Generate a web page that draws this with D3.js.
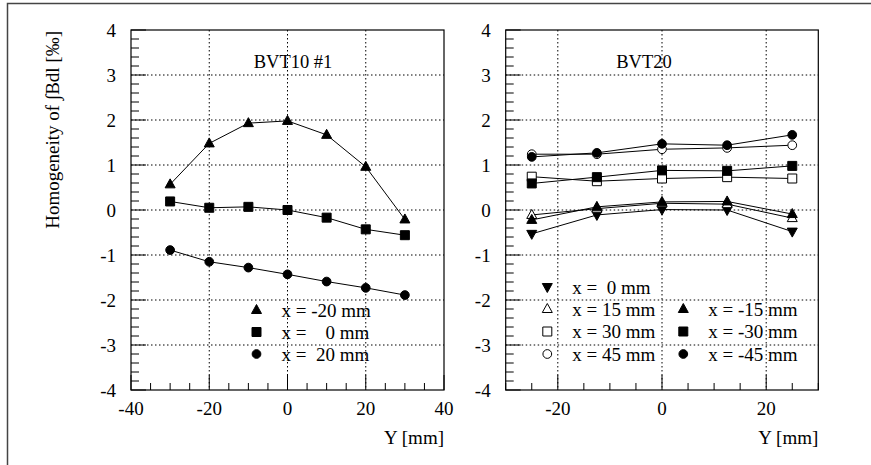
<!DOCTYPE html>
<html>
<head>
<meta charset="utf-8">
<script src="https://cdn.jsdelivr.net/npm/d3@7"></script>
<style>
  body { margin: 0; background: #fff; }
  text { font-family: "Liberation Serif", "DejaVu Serif", serif; fill: #000; white-space: pre; }
</style>
</head>
<body>
<div id="viz"></div>
<script>
// BVT10 #1 : Y positions and homogeneity for three x values
var yPos10 = [-30, -20, -10, 0, 10, 20, 30];
var bvt10_m20 = [0.57, 1.48, 1.93, 1.98, 1.67, 0.96, -0.21];
var bvt10_0 = [0.19, 0.05, 0.07, 0.00, -0.17, -0.43, -0.56];
var bvt10_p20 = [-0.89, -1.15, -1.28, -1.43, -1.59, -1.73, -1.89];

// BVT20
var yPos20 = [-25, -12.5, 0, 12.5, 25];
var bvt20_0 = [-0.53, -0.11, 0.01, 0.00, -0.48];
var bvt20_p15 = [-0.11, 0.03, 0.15, 0.13, -0.18];
var bvt20_m15 = [-0.22, 0.07, 0.18, 0.19, -0.09];
var bvt20_p30 = [0.74, 0.64, 0.70, 0.73, 0.70];
var bvt20_m30 = [0.59, 0.73, 0.88, 0.87, 0.98];
var bvt20_p45 = [1.24, 1.24, 1.35, 1.38, 1.44];
var bvt20_m45 = [1.18, 1.27, 1.47, 1.44, 1.67];

var yTicks = [-4, -3, -2, -1, 0, 1, 2, 3, 4];
var xTicks10 = [-40, -20, 0, 20, 40];
var xTicks20 = [-20, 0, 20];

var svg = d3.select('#viz').append('svg')
  .attr('width', 871).attr('height', 465);

// outer frame (top + left)
svg.append('path')
  .attr('d', 'M7.5,465 V3.5 H871')
  .style('fill', 'none').style('stroke', '#444').style('stroke-width', 1.5);

function panel(opt) {
  var g = svg.append('g');
  var x = d3.scaleLinear().domain(opt.xdom).range([opt.left, opt.right]);
  var y = d3.scaleLinear().domain([-4, 4]).range([390, 30]);

  // grid
  g.selectAll('.gx').data(opt.xgrid).join('line')
    .attr('x1', d => x(d)).attr('x2', d => x(d)).attr('y1', 30).attr('y2', 390)
    .style('stroke', '#000').style('stroke-width', 1).style('stroke-dasharray', '1.5,2.5');
  g.selectAll('.gy').data(yTicks.slice(1, -1)).join('line')
    .attr('x1', opt.left).attr('x2', opt.right).attr('y1', d => y(d)).attr('y2', d => y(d))
    .style('stroke', '#000').style('stroke-width', 1).style('stroke-dasharray', '1.5,2.5');

  // y ticks
  var yMinor = d3.range(-4, 4.001, 0.2);
  g.selectAll('.ty').data(yMinor).join('line')
    .attr('x1', opt.left).attr('y1', d => y(d)).attr('y2', d => y(d))
    .attr('x2', d => opt.left + (Math.abs(d - Math.round(d)) < 1e-6 ? 15 : 8))
    .style('stroke', '#000').style('stroke-width', 1);
  // x ticks
  var xMinor = d3.range(opt.xdom[0], opt.xdom[1] + 0.001, 5);
  g.selectAll('.tx').data(xMinor).join('line')
    .attr('x1', d => x(d)).attr('x2', d => x(d)).attr('y1', 390)
    .attr('y2', d => 390 - (d % 20 === 0 ? 15 : 7))
    .style('stroke', '#000').style('stroke-width', 1);

  // frame
  g.append('rect').attr('x', opt.left).attr('y', 30)
    .attr('width', opt.right - opt.left).attr('height', 360)
    .style('fill', 'none').style('stroke', '#000').style('stroke-width', 1.2);

  // tick labels
  g.selectAll('.ly').data(yTicks).join('text')
    .attr('x', opt.left - 15).attr('y', d => y(d) + 6.5)
    .attr('text-anchor', 'end').style('font-size', '19px')
    .text(d => d);
  g.selectAll('.lx').data(opt.xlabels).join('text')
    .attr('x', d => x(d)).attr('y', 415)
    .attr('text-anchor', 'middle').style('font-size', '19px')
    .text(d => d);

  g.append('text').attr('x', opt.right).attr('y', 444)
    .attr('text-anchor', 'end').style('font-size', '19px').text('Y [mm]');
  g.append('text').attr('x', opt.titleX).attr('y', 68)
    .attr('text-anchor', 'middle').style('font-size', '18.5px').text(opt.title);

  var line = d3.line().x(d => x(d[0])).y(d => y(d[1]));
  opt.series.forEach(function (s) {
    var pts = opt.xs.map((v, i) => [v, s.values[i]]);
    g.append('path').attr('d', line(pts))
      .style('fill', 'none').style('stroke', '#000').style('stroke-width', 1);
    g.selectAll(null).data(pts).join('path')
      .attr('transform', d => 'translate(' + x(d[0]) + ',' + y(d[1]) + ')')
      .attr('d', marker(s.shape))
      .style('fill', s.filled ? '#000' : '#fff')
      .style('stroke', '#000').style('stroke-width', 1);
  });

  // legend
  opt.legend.forEach(function (l) {
    g.append('path')
      .attr('transform', 'translate(' + l.mx + ',' + l.my + ')')
      .attr('d', marker(l.shape))
      .style('fill', l.filled ? '#000' : '#fff')
      .style('stroke', '#000').style('stroke-width', 1);
    g.append('text').attr('x', l.mx + 25).attr('y', l.my + 6.5)
      .style('font-size', '19px').text(l.label);
  });
}

function marker(shape) {
  if (shape === 'tri') return 'M0,-5.5L5,3.5L-5,3.5Z';
  if (shape === 'itri') return 'M0,5.5L5,-3.5L-5,-3.5Z';
  if (shape === 'sq') return 'M-4.5,-4.5H4.5V4.5H-4.5Z';
  return d3.symbol(d3.symbolCircle, 60)();
}

panel({
  left: 131, right: 444, xdom: [-40, 40], xgrid: [-20, 0, 20], xlabels: xTicks10,
  title: 'BVT10 #1', titleX: 293, xs: yPos10,
  series: [
    { values: bvt10_m20, shape: 'tri', filled: true },
    { values: bvt10_0, shape: 'sq', filled: true },
    { values: bvt10_p20, shape: 'circ', filled: true }
  ],
  legend: [
    { mx: 256.5, my: 310, shape: 'tri', filled: true, label: 'x = -20 mm' },
    { mx: 256.5, my: 332, shape: 'sq', filled: true, label: 'x =    0 mm' },
    { mx: 256.5, my: 354, shape: 'circ', filled: true, label: 'x =  20 mm' }
  ]
});

panel({
  left: 505.7, right: 818.3, xdom: [-30, 30], xgrid: [-20, 0, 20], xlabels: xTicks20,
  title: 'BVT20', titleX: 644, xs: yPos20,
  series: [
    { values: bvt20_0, shape: 'itri', filled: true },
    { values: bvt20_p15, shape: 'tri', filled: false },
    { values: bvt20_m15, shape: 'tri', filled: true },
    { values: bvt20_p30, shape: 'sq', filled: false },
    { values: bvt20_m30, shape: 'sq', filled: true },
    { values: bvt20_p45, shape: 'circ', filled: false },
    { values: bvt20_m45, shape: 'circ', filled: true }
  ],
  legend: [
    { mx: 547.3, my: 287, shape: 'itri', filled: true, label: 'x =  0 mm' },
    { mx: 547.3, my: 309, shape: 'tri', filled: false, label: 'x = 15 mm' },
    { mx: 547.3, my: 331.5, shape: 'sq', filled: false, label: 'x = 30 mm' },
    { mx: 547.3, my: 354, shape: 'circ', filled: false, label: 'x = 45 mm' },
    { mx: 683.3, my: 309, shape: 'tri', filled: true, label: 'x = -15 mm' },
    { mx: 683.3, my: 331.5, shape: 'sq', filled: true, label: 'x = -30 mm' },
    { mx: 683.3, my: 354, shape: 'circ', filled: true, label: 'x = -45 mm' }
  ]
});

// y axis title
svg.append('text')
  .attr('transform', 'translate(59,31) rotate(-90)')
  .attr('text-anchor', 'end').style('font-size', '19px')
  .text('Homogeneity of \u222BBdl [\u2030]');
</script>
</body>
</html>
